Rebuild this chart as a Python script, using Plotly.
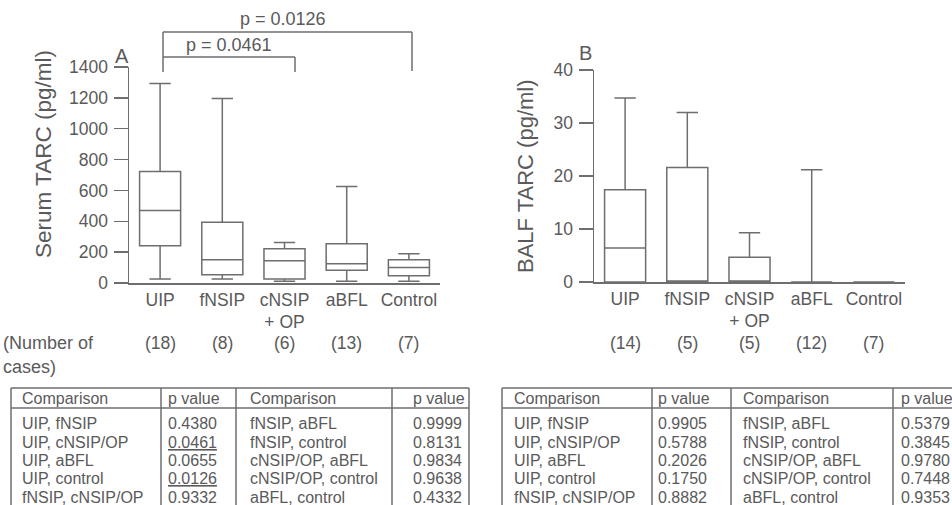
import plotly.graph_objects as go

W, H = 952, 505

# ---------------- data ----------------
categories = ["UIP", "fNSIP", "cNSIP + OP", "aBFL", "Control"]
tick_labels = ["UIP", "fNSIP", "cNSIP<br>+ OP", "aBFL", "Control"]

# Panel A: serum TARC (pg/ml)
serum_low = [26, 26, 11, 11, 11]
serum_q1 = [241, 54, 26, 82, 47]
serum_median = [470, 151, 144, 125, 101]
serum_q3 = [722, 394, 222, 254, 151]
serum_high = [1293, 1196, 263, 625, 190]
serum_n = ["(18)", "(8)", "(6)", "(13)", "(7)"]

# Panel B: BALF TARC (pg/ml)
balf_low = [0, 0, 0, 0, 0]
balf_q1 = [0, 0, 0, 0, 0]
balf_median = [6.4, 0, 0, 0, 0]
balf_q3 = [17.4, 21.6, 4.65, 0, 0]
balf_high = [34.7, 32.0, 9.3, 21.2, 0]
balf_n = ["(14)", "(5)", "(5)", "(12)", "(7)"]

# Comparison tables
cmp_left = ["UIP, fNSIP", "UIP, cNSIP/OP", "UIP, aBFL", "UIP, control", "fNSIP, cNSIP/OP"]
cmp_right = ["fNSIP, aBFL", "fNSIP, control", "cNSIP/OP, aBFL", "cNSIP/OP, control", "aBFL, control"]
pA_left = ["0.4380", "0.0461", "0.0655", "0.0126", "0.9332"]
pA_right = ["0.9999", "0.8131", "0.9834", "0.9638", "0.4332"]
pA_underlined = ["0.0461", "0.0126"]
pB_left = ["0.9905", "0.5788", "0.2026", "0.1750", "0.8882"]
pB_right = ["0.5379", "0.3845", "0.9780", "0.7448", "0.9353"]

# ---------------- style ----------------
INK = "#5a5a5a"
LINE = "#6e6e6e"
FONT = "Liberation Sans, Arial, sans-serif"
FS = 17.5


def px(x):
    return x / W


def py(y):
    return 1 - y / H


fig = go.Figure()

box_style = dict(
    line=dict(color=LINE, width=1.5),
    fillcolor="rgba(0,0,0,0)",
    whiskerwidth=0.52,
    width=0.66,
    boxpoints=False,
    hoverinfo="skip",
    showlegend=False,
)

fig.add_trace(go.Box(
    x=categories, q1=serum_q1, median=serum_median, q3=serum_q3,
    lowerfence=serum_low, upperfence=serum_high,
    xaxis="x", yaxis="y", **box_style))

fig.add_trace(go.Box(
    x=categories, q1=balf_q1, median=balf_median, q3=balf_q3,
    lowerfence=balf_low, upperfence=balf_high,
    xaxis="x2", yaxis="y2", **box_style))

tickfont = dict(family=FONT, size=FS, color=INK)

xcommon = dict(
    type="category", range=[-0.5, 4.5], showline=True, linecolor=LINE, linewidth=1.5,
    ticks="", tickvals=categories, ticktext=tick_labels, tickfont=tickfont,
    showgrid=False, zeroline=False, fixedrange=True, automargin=False,
)
ycommon = dict(
    showline=True, linecolor=LINE, linewidth=1.5, ticks="outside", ticklen=14,
    tickwidth=1.5, tickcolor=LINE, tickfont=tickfont, showgrid=False,
    zeroline=False, fixedrange=True, ticklabelstandoff=2, automargin=False,
)

fig.update_layout(
    width=W, height=H,
    margin=dict(l=0, r=0, t=0, b=0, pad=0),
    paper_bgcolor="white", plot_bgcolor="white",
    boxmode="overlay",
    font=dict(family=FONT, color=INK),
    xaxis=dict(domain=[px(129), px(440)], anchor="y", **xcommon),
    yaxis=dict(domain=[py(283), py(67)], anchor="x", range=[0, 1400], dtick=200, **ycommon),
    xaxis2=dict(domain=[px(594), px(905)], anchor="y2", **xcommon),
    yaxis2=dict(domain=[py(282), py(70)], anchor="x2", range=[0, 40], dtick=10, **ycommon),
)

ann = []
shapes = []


def text(x, y, s, size=FS, xanchor="center", angle=0, **kw):
    ann.append(dict(x=px(x), y=py(y), xref="paper", yref="paper", text=s,
                    showarrow=False, xanchor=xanchor, yanchor="middle",
                    textangle=angle, font=dict(family=FONT, size=size, color=INK, **kw)))


def line(x0, y0, x1, y1, w=1.5):
    shapes.append(dict(type="line", xref="paper", yref="paper",
                       x0=px(x0), y0=py(y0), x1=px(x1), y1=py(y1),
                       line=dict(color=LINE, width=w)))


# axis titles & panel letters
text(43, 154, "Serum TARC (pg/ml)", size=22.5, angle=-90)
text(525, 176, "BALF TARC (pg/ml)", size=22, angle=-90)
text(122, 56, "A", size=20)
text(585, 53, "B", size=20)

# significance brackets (panel A)
line(163, 32, 412, 32)
line(163, 32, 163, 72)
line(412, 32, 412, 71)
line(163, 57, 295, 57)
line(295, 57, 295, 72)
text(283, 19, "p = 0.0126", size=18)
text(229, 45, "p = 0.0461", size=18)

# number of cases
text(1, 343, "(Number of", size=18, xanchor="left")
text(1, 367, "cases)", size=18, xanchor="left")
for i, n in enumerate(serum_n):
    ann.append(dict(x=i, y=py(343), xref="x", yref="paper", text=n, showarrow=False,
                    yanchor="middle", font=dict(family=FONT, size=FS, color=INK)))
for i, n in enumerate(balf_n):
    ann.append(dict(x=i, y=py(343), xref="x2", yref="paper", text=n, showarrow=False,
                    yanchor="middle", font=dict(family=FONT, size=FS, color=INK)))

# tables
row_y = [423, 442, 460, 478, 497]
TOP, HEAD, BOT = 388, 408, 512
TS = 16


def table(xs_lines, right_border, text_x, cols, underlined=()):
    x_left = xs_lines[0]
    x_right = right_border if right_border is not None else W + 5
    line(x_left, TOP, x_right, TOP)
    line(x_left, HEAD, x_right, HEAD)
    for xv in xs_lines:
        line(xv, TOP, xv, BOT)
    if right_border is not None:
        line(right_border, TOP, right_border, BOT)
    headers = ["Comparison", "p value", "Comparison", "p value"]
    for tx, hd in zip(text_x, headers):
        text(tx, 398, hd, size=TS, xanchor="left")
    for tx, col in zip(text_x, cols):
        for yv, val in zip(row_y, col):
            if val in underlined:
                text(tx, yv, val, size=TS, xanchor="left", lineposition="under")
            else:
                text(tx, yv, val, size=TS, xanchor="left")


table([11, 161, 236, 392], 469, [20, 166, 248, 411],
      [cmp_left, pA_left, cmp_right, pA_right], underlined=pA_underlined)
table([502, 652, 731, 893], None, [512, 656, 741, 899],
      [cmp_left, pB_left, cmp_right, pB_right])

fig.update_layout(annotations=ann, shapes=shapes)

fig.write_html(
    "out.html",
    config={"displayModeBar": False, "staticPlot": True},
    post_script="document.body.style.margin='0px';document.body.style.padding='0px';",
)
